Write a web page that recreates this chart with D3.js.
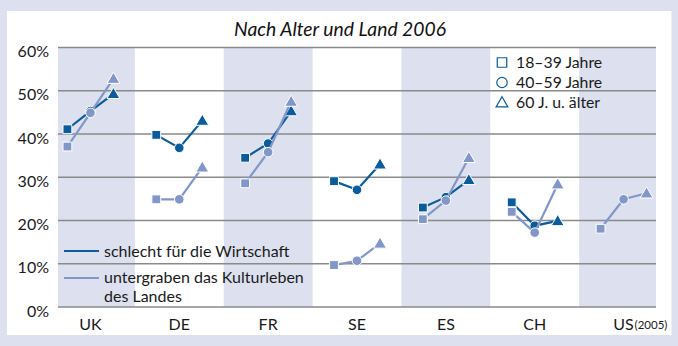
<!DOCTYPE html>
<html><head><meta charset="utf-8">
<script src="https://cdn.jsdelivr.net/npm/d3@7"></script>
<style>
html,body{margin:0;padding:0;background:#dde1ef;}
svg{display:block;font-family:Lato, "Noto Sans", sans-serif;}
</style></head>
<body><svg id="c" width="678" height="346"></svg>
<script>
const countries = ["UK","DE","FR","SE","ES","CH","US"];
const ages = ["18–39 Jahre","40–59 Jahre","60 J. u. älter"];
const yTicks = [0,10,20,30,40,50,60];
// schlecht für die Wirtschaft (dark)
const wirtschaft = [
  [41.1, 45.3, 49.3],
  [39.8, 36.8, 43.1],
  [34.5, 37.8, 45.3],
  [29.1, 27.1, 33.0],
  [23.0, 25.4, 29.4],
  [24.2, 18.8, 19.9],
  null
];
// untergraben das Kulturleben des Landes (light)
const kultur = [
  [37.1, 44.9, 52.8],
  [24.9, 24.9, 32.3],
  [28.6, 35.8, 47.5],
  [ 9.7, 10.7, 14.7],
  [20.3, 24.6, 34.5],
  [22.0, 17.2, 28.4],
  [18.1, 24.9, 26.3]
];
const shadedCountries = ["UK","FR","ES","US"];
const seriesNames = ["schlecht für die Wirtschaft","untergraben das Kulturleben","des Landes"];

const dark = "#0b5c9c", light = "#8297c9", band = "#dde1ef", grid = "#8a8a8a";
const svg = d3.select("#c");
svg.append("rect").attr("x",0).attr("y",0).attr("width",678).attr("height",346).attr("fill",band);
svg.append("rect").attr("x",7).attr("y",11).attr("width",664.5).attr("height",324).attr("fill","#fff");

const plotL = 58, plotR = 656;
const x = d3.scaleBand().domain(countries).range([46,668]);
const xa = d3.scalePoint().domain(ages).range([-23,23]);
const y = d3.scaleLinear().domain([0,60]).range([307,47.5]);

// bands
svg.append("g").selectAll("rect").data(shadedCountries).join("rect")
  .attr("x", d => Math.max(plotL, x(d)))
  .attr("width", d => Math.min(plotR, x(d)+x.bandwidth()) - Math.max(plotL, x(d)))
  .attr("y", y(60)).attr("height", y(0)-y(60)).attr("fill", band);

// gridlines
svg.append("g").selectAll("line").data(yTicks).join("line")
  .attr("x1", plotL).attr("x2", plotR)
  .attr("y1", d => y(d)).attr("y2", d => y(d))
  .attr("stroke", grid).attr("stroke-width", 1.3);

// y labels
svg.append("g").selectAll("text").data(yTicks).join("text")
  .attr("x", 49).attr("y", d => y(d)+4).attr("dy","0.35em")
  .attr("text-anchor","end").attr("font-size",16).attr("fill","#1a1a1a")
  .text(d => d + "%");

// x labels
svg.append("g").selectAll("text").data(countries).join("text")
  .attr("x", d => x(d)+x.bandwidth()/2).attr("y", 330)
  .attr("text-anchor","middle").attr("font-size",16).attr("fill","#1a1a1a")
  .text(d => d);
svg.append("text").attr("x", x("US")+x.bandwidth()/2+11).attr("y",329)
  .attr("font-size",11.5).attr("fill","#1a1a1a").text("(2005)");

// title
svg.append("text").attr("x",340).attr("y",36).attr("text-anchor","middle")
  .attr("font-size",19.3).attr("font-style","italic").attr("fill","#111")
  .text("Nach Alter und Land 2006");

const sym = [d3.symbolSquare, d3.symbolCircle, d3.symbolTriangle];
const symSize = [78, 72, 72];
function drawSeries(data, color){
  const g = svg.append("g");
  const line = d3.line().x(d => d[0]).y(d => d[1]);
  data.forEach((vals, i) => {
    if(!vals) return;
    const c = countries[i];
    const pts = vals.map((v,j) => [x(c)+x.bandwidth()/2 + xa(ages[j]), y(v)]);
    g.append("path").attr("d", line(pts)).attr("fill","none")
      .attr("stroke", color).attr("stroke-width", 2.2);
    pts.forEach((p,j) => {
      g.append("path").attr("d", d3.symbol().type(sym[j]).size(symSize[j])())
        .attr("transform", `translate(${p[0]},${p[1]+(j===2?1:0)})`)
        .attr("fill", color).attr("stroke","#fff").attr("stroke-width",1);
    });
  });
}
drawSeries(wirtschaft, dark);
drawSeries(kultur, light);

// legend series
const lg = svg.append("g");
lg.append("line").attr("x1",64).attr("x2",99).attr("y1",251).attr("y2",251).attr("stroke",dark).attr("stroke-width",2.2);
lg.append("line").attr("x1",64).attr("x2",99).attr("y1",278).attr("y2",278).attr("stroke",light).attr("stroke-width",2.2);
lg.append("text").attr("x",104).attr("y",257).attr("font-size",16).attr("fill","#1a1a1a").text(seriesNames[0]);
lg.append("text").attr("x",104).attr("y",283).attr("font-size",16).attr("fill","#1a1a1a").text(seriesNames[1]);
lg.append("text").attr("x",104).attr("y",302).attr("font-size",16).attr("fill","#1a1a1a").text(seriesNames[2]);

// legend ages
const la = svg.append("g");
ages.forEach((a,j) => {
  const yy = 62.5 + j*20;
  la.append("path").attr("d", d3.symbol().type(sym[j]).size(j===0?90:(j===1?85:60))())
    .attr("transform", `translate(502,${yy + (j===2?1:0)})`)
    .attr("fill","none").attr("stroke", dark).attr("stroke-width",1.2);
  la.append("text").attr("x",516).attr("y",yy).attr("dy","0.35em")
    .attr("font-size",15.8).attr("fill","#1a1a1a").text(a);
});
</script>
</body></html>
